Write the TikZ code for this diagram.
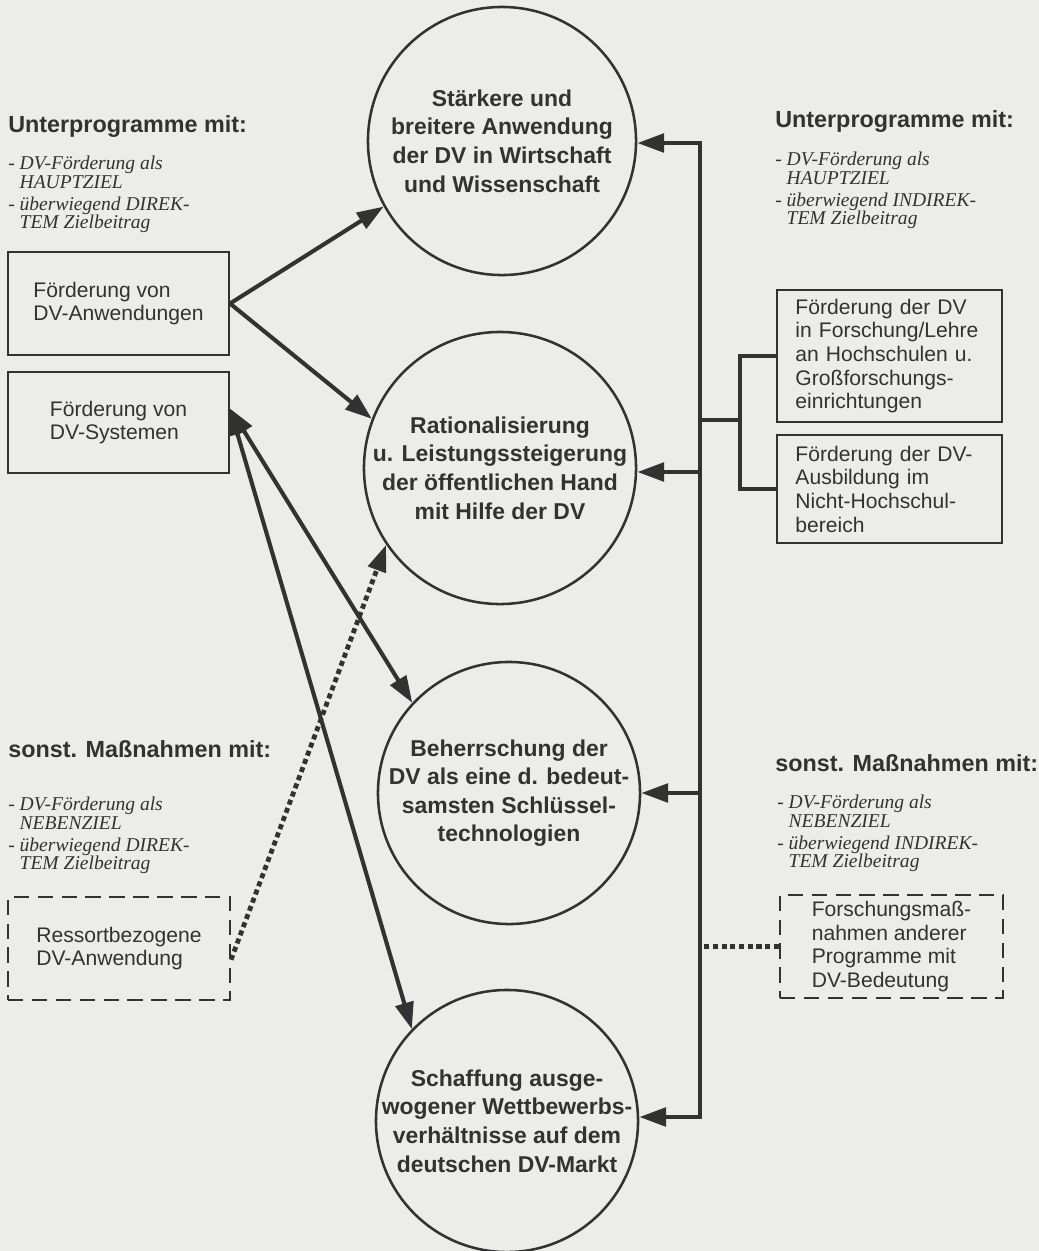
\documentclass[tikz,border=0pt]{standalone}
\usepackage{fontspec}
\setmainfont{Liberation Sans}
\newfontfamily\notefont{Liberation Serif}
\usetikzlibrary{arrows.meta}
\definecolor{paper}{RGB}{236,237,233}
\definecolor{ink}{RGB}{50,50,50}

\begin{document}
\begin{tikzpicture}[x=0.025cm,y=-0.025cm,color=ink,
  >={Triangle[length=19pt,width=13pt]},
  goal node/.style={circle,draw,line width=1.8pt,align=center,inner sep=-10pt,font=\bfseries\fontsize{16.3}{20.3}\selectfont},
  prog node/.style={rectangle,draw,line width=1.4pt,align=left,font=\fontsize{15}{16.8}\selectfont},
  misc node/.style={prog node,dash pattern=on 11pt off 6pt},
  head node/.style={anchor=base west,inner sep=0pt,font=\bfseries\fontsize{16.6}{20}\selectfont},
  note node/.style={anchor=north west,inner sep=0pt,align=left,font=\notefont\itshape\fontsize{13.9}{13}\selectfont},
  goal edge/.style={->,line width=2.9pt},
  both edge/.style={<->,line width=2.9pt},
  weak edge/.style={->,line width=3.4pt,dash pattern=on 3.6pt off 2.6pt},
  bus/.style={line width=3.2pt}]

  \useasboundingbox[fill=paper] (0,0) rectangle (1039,1251);

  % Ziele
  \node[goal node,minimum size=6.7cm] (c1) at (502,141) {Stärkere und\\breitere Anwendung\\der DV in Wirtschaft\\und Wissenschaft};
  \node[goal node,minimum size=6.8cm] (c2) at (500,468) {Rationalisierung\\u. Leistungssteigerung\\der öffentlichen Hand\\mit Hilfe der DV};
  \node[goal node,minimum size=6.55cm] (c3) at (509,793) {Beherrschung der\\DV als eine d. bedeut-\\samsten Schlüssel-\\technologien};
  \node[goal node,minimum size=6.55cm] (c4) at (507,1121) {Schaffung ausge-\\wogener Wettbewerbs-\\verhältnisse auf dem\\deutschen DV-Markt};

  % links
  \node[head node] (lhead) at (8,132) {Unterprogramme mit:};
  \node[note node] (lnote) at (8,156) {- DV-Förderung als\\\phantom{- }HAUPTZIEL\\[3pt]- überwiegend DIREK-\\\phantom{- }TEM Zielbeitrag};
  \node[prog node,minimum width=5.525cm,minimum height=2.575cm] (anw) at (118.5,303.5) {Förderung von\\DV-Anwendungen};
  \node[prog node,minimum width=5.525cm,minimum height=2.525cm,below of=anw,node distance=2.975cm] (sys) {Förderung von\\DV-Systemen};
  \node[head node] (lhead2) at (8,757) {sonst. Maßnahmen mit:};
  \node[note node] (lnote2) at (8,797) {- DV-Förderung als\\\phantom{- }NEBENZIEL\\[3pt]- überwiegend DIREK-\\\phantom{- }TEM Zielbeitrag};
  \node[misc node,minimum width=5.55cm,minimum height=2.575cm] (ress) at (119,948.5) {Ressortbezogene\\DV-Anwendung};

  % rechts
  \node[head node] (rhead) at (775,127) {Unterprogramme mit:};
  \node[note node] (rnote) at (775,152) {- DV-Förderung als\\\phantom{- }HAUPTZIEL\\[3pt]- überwiegend INDIREK-\\\phantom{- }TEM Zielbeitrag};
  \node[prog node,text width=4.7cm,inner xsep=0.45cm,minimum height=3.3cm] (hoch) at (889.5,356) {Förderung der DV\\in Forschung/Lehre\\an Hochschulen u.\\Großforschungs-\\einrichtungen};
  \node[prog node,text width=4.7cm,inner xsep=0.45cm,minimum height=2.7cm,below of=hoch,node distance=3.325cm] (ausb) {Förderung der DV-\\Ausbildung im\\Nicht-Hochschul-\\bereich};
  \node[head node] (rhead2) at (775,771) {sonst. Maßnahmen mit:};
  \node[note node] (rnote2) at (777,795) {- DV-Förderung als\\\phantom{- }NEBENZIEL\\[3pt]- überwiegend INDIREK-\\\phantom{- }TEM Zielbeitrag};
  \node[misc node,minimum width=5.575cm,minimum height=2.575cm] (fmass) at (891.5,946.5) {Forschungsmaß-\\nahmen anderer\\Programme mit\\DV-Bedeutung};

  \coordinate (b1) at (700,143);
  \coordinate (b2) at (700,472);
  \coordinate (b3) at (700,793);
  \coordinate (b4) at (700,1117);
  \coordinate (k) at (740,420);

  \path[goal edge]
    (anw.east) edge (c1.209)
    (anw.east) edge (c2.159);
  \path[both edge]
    ([yshift=10pt]sys.east) edge (c3.137)
    ([yshift=10pt]sys.east) edge (c4.136);
  \path[weak edge]
    ([yshift=-8pt]ress.east) edge (c2.214);

  \draw[bus,<->] (b1 -| c1.east) -- (b1) -- (b4) -- (b4 -| c4.east);
  \draw[bus,->] (b2) -- (b2 -| c2.east);
  \draw[bus,->] (b3) -- (b3 -| c3.east);
  \draw[bus] (hoch.west) -| (k) |- (ausb.west);
  \draw[bus] (k) -- (k -| b1);
  \path[weak edge,-] (fmass.west) edge (fmass.west -| b1);

\end{tikzpicture}
\end{document}
